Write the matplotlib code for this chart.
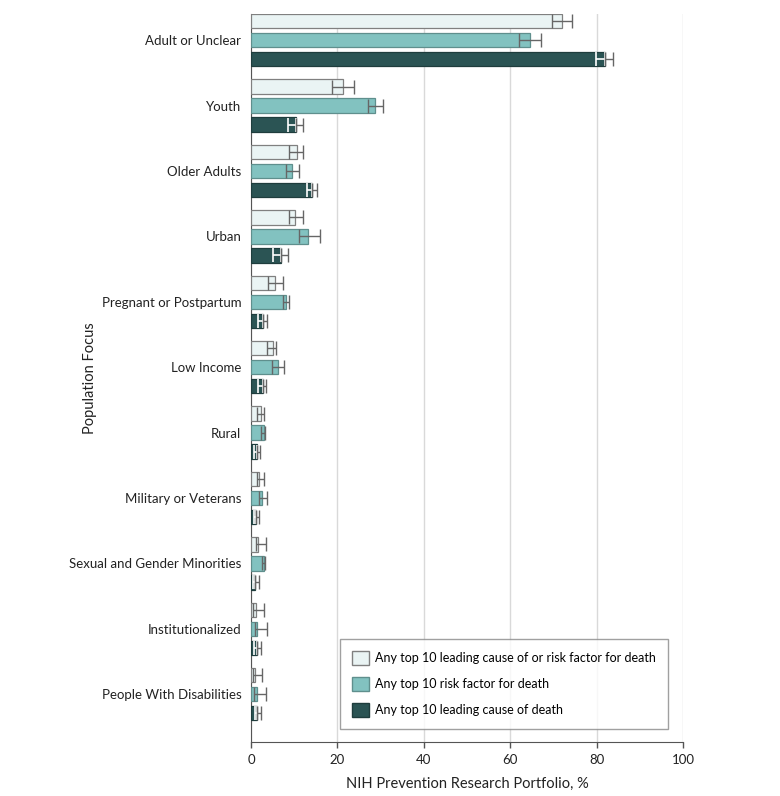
import matplotlib
matplotlib.use("Agg")
import matplotlib.pyplot as plt
import numpy as np
from matplotlib.patches import Patch

categories = ["Adult or Unclear", "Youth", "Older Adults", "Urban", "Pregnant or Postpartum",
              "Low Income", "Rural", "Military or Veterans", "Sexual and Gender Minorities",
              "Institutionalized", "People With Disabilities"]

series_names = ["Any top 10 leading cause of or risk factor for death",
                "Any top 10 risk factor for death",
                "Any top 10 leading cause of death"]

either_val = [72.0, 21.4, 10.6, 10.3, 5.6, 5.0, 2.4, 1.9, 1.7, 1.1, 0.9]
either_lo  = [69.6, 18.8, 8.9, 8.9, 4.0, 3.6, 1.5, 1.5, 1.2, 0.4, 0.4]
either_hi  = [74.4, 23.8, 12.1, 12.1, 7.3, 5.8, 3.0, 3.0, 3.4, 2.9, 2.6]

risk_val = [64.6, 28.6, 9.6, 13.3, 8.0, 6.2, 2.9, 2.5, 2.9, 1.5, 1.3]
risk_lo  = [62.1, 27.1, 8.1, 11.0, 7.3, 4.8, 2.2, 1.9, 2.5, 0.9, 0.7]
risk_hi  = [67.1, 30.5, 11.2, 16.0, 8.9, 7.7, 3.3, 3.8, 3.3, 3.8, 3.5]

cause_val = [81.9, 10.4, 14.1, 6.9, 2.7, 2.7, 1.3, 1.2, 0.9, 1.5, 1.5]
cause_lo  = [79.8, 8.6, 12.9, 5.2, 1.7, 1.7, 0.6, 0.6, 0.5, 0.7, 0.9]
cause_hi  = [83.9, 12.1, 15.2, 8.5, 3.6, 3.5, 2.0, 1.8, 1.8, 2.3, 2.2]

colors = ["#EAF4F4", "#82C2C0", "#2B5454"]

plt.rcParams['font.family'] = ['Lato', 'DejaVu Sans']
fs_tick, fs_lab, fs_leg = 9.5, 10.5, 9.0

fig = plt.figure(figsize=(7.8, 7.96), dpi=100)
ax = fig.add_axes([251/780, 1-742/796, 432/780, 728/796])

y = np.arange(len(categories))
offset = 0.29
h = 0.22
ecol = "#666666"

data = [(either_val, either_lo, either_hi), (risk_val, risk_lo, risk_hi), (cause_val, cause_lo, cause_hi)]
for k, (vals, lo, hi) in enumerate(data):
    vals = np.array(vals); lo = np.array(lo); hi = np.array(hi)
    yy = y + (k - 1) * offset
    edge = "#808080" if k == 0 else ("#5f8f8d" if k == 1 else "#1f3d3d")
    ax.barh(yy, vals, height=h, color=colors[k], edgecolor=edge, linewidth=0.9, zorder=3)
    if k < 2:
        ax.errorbar(vals, yy, xerr=[vals - lo, hi - vals], fmt='none', ecolor=ecol,
                    elinewidth=1, capsize=5, capthick=1, zorder=4)
    else:
        ax.errorbar(vals, yy, xerr=[vals - lo, np.zeros_like(vals)], fmt='none', ecolor="white",
                    elinewidth=1.2, capsize=5, capthick=1.2, zorder=4)
        ax.errorbar(vals, yy, xerr=[np.zeros_like(vals), hi - vals], fmt='none', ecolor=ecol,
                    elinewidth=1, capsize=5, capthick=1, zorder=4)

ax.set_xlim(0, 100)
ax.set_ylim(10.73, -0.40)
ax.set_xticks([0, 20, 40, 60, 80, 100])
ax.set_yticks(y)
ax.set_yticklabels(categories, fontsize=fs_tick, color="#222222")
ax.tick_params(axis='y', length=0, pad=7)
ax.tick_params(axis='x', length=4, width=1, color="#555555", labelsize=fs_tick, labelcolor="#222222", pad=5)
ax.xaxis.grid(True, color="#d9d9d9", linewidth=1, zorder=0)
ax.set_axisbelow(True)
for s in ["top", "right"]:
    ax.spines[s].set_visible(False)
ax.spines["left"].set_color("#555555")
ax.spines["bottom"].set_color("#555555")

ax.set_xlabel("NIH Prevention Research Portfolio, %", fontsize=fs_lab, color="#222222")
ax.xaxis.set_label_coords(0.5, -35/728)
ax.set_ylabel("Population Focus", fontsize=fs_lab, color="#222222")
ax.yaxis.set_label_coords(-154/432, 0.5)

handles = [Patch(facecolor=colors[0], edgecolor="#808080"),
           Patch(facecolor=colors[1], edgecolor="#5f8f8d"),
           Patch(facecolor=colors[2], edgecolor="#1f3d3d")]
leg = ax.legend(handles, series_names, loc='lower right', bbox_to_anchor=(0.965, 0.018),
                borderaxespad=0, fontsize=fs_leg, frameon=True, fancybox=False, edgecolor="#888888",
                handlelength=1.35, handleheight=1.35, labelspacing=0.95, borderpad=0.95,
                handletextpad=0.5)
leg.get_frame().set_linewidth(1)

fig.savefig("out.png", dpi=100)
